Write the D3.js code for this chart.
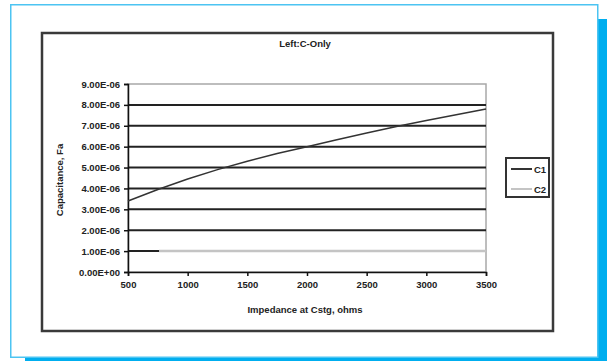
<!DOCTYPE html>
<html>
<head>
<meta charset="utf-8">
<script src="https://cdn.jsdelivr.net/npm/d3@7"></script>
<style>
	body { margin: 0; background: #fff; }
	text { font-family: "Liberation Sans", Arial, sans-serif; fill: #222; font-weight: bold; }
</style>
</head>
<body>
<div id="chart"></div>
<script>
// Data
const c1Impedance = [500, 750, 1000, 1250, 1500, 1750, 2000, 2250, 2500, 2750, 3000, 3250, 3500]
const c1Capacitance = [3.4e-6, 3.95e-6, 4.45e-6, 4.9e-6, 5.3e-6, 5.67e-6, 6.0e-6, 6.33e-6, 6.65e-6, 6.97e-6, 7.25e-6, 7.53e-6, 7.8e-6]
const c2Impedance = [760, 3500]
const c2Capacitance = [1e-6, 1e-6]
const xTicks = [500, 1000, 1500, 2000, 2500, 3000, 3500]
const yTicks = [0, 1e-6, 2e-6, 3e-6, 4e-6, 5e-6, 6e-6, 7e-6, 8e-6, 9e-6]
const seriesNames = ['C1', 'C2']

function draw() {
	// Dimensions
	let dimensions = {
		width: 607,
		height: 361,
		margin: { top: 84, bottom: 89, left: 128, right: 121 }
	}
	dimensions.ctrWidth = dimensions.width - dimensions.margin.left - dimensions.margin.right
	dimensions.ctrHeight = dimensions.height - dimensions.margin.top - dimensions.margin.bottom

	const svg = d3.select('#chart')
		.append('svg')
		.attr('width', dimensions.width)
		.attr('height', dimensions.height)

	// page frame and cyan shadow
	svg.append('rect').attr('x', 598).attr('y', 19).attr('width', 9).attr('height', 342).attr('fill', '#00aeef')
	svg.append('rect').attr('x', 25).attr('y', 358).attr('width', 582).attr('height', 3).attr('fill', '#00aeef')
	svg.append('rect')
		.attr('x', 10.75).attr('y', 4.75).attr('width', 587).attr('height', 352.5)
		.attr('fill', '#fff').attr('stroke', '#4cc4f2').attr('stroke-width', 1.5)

	// chart box
	svg.append('rect')
		.attr('x', 42).attr('y', 33).attr('width', 511).attr('height', 298)
		.attr('fill', 'none').attr('stroke', '#3a3a3a').attr('stroke-width', 2.5)

	svg.append('text')
		.attr('x', 305).attr('y', 47)
		.attr('text-anchor', 'middle')
		.style('font-size', '9.5px')
		.text('Left:C-Only')

	const ctr = svg.append('g')
		.attr('transform', `translate(${dimensions.margin.left}, ${dimensions.margin.top})`)

	// Scales
	const xScale = d3.scaleLinear()
		.domain([500, 3500])
		.range([0, dimensions.ctrWidth])

	const yScale = d3.scaleLinear()
		.domain([0, 9e-6])
		.range([dimensions.ctrHeight, 0])

	// plot border (gray)
	ctr.append('rect')
		.attr('width', dimensions.ctrWidth)
		.attr('height', dimensions.ctrHeight)
		.attr('fill', 'none')
		.attr('stroke', '#a8a8a8')
		.attr('stroke-width', 1.5)

	// gridlines
	ctr.selectAll('.grid')
		.data(yTicks.filter(d => d > 0 && d < 9e-6))
		.join('line')
		.attr('class', 'grid')
		.attr('x1', 0)
		.attr('x2', dimensions.ctrWidth)
		.attr('y1', d => yScale(d))
		.attr('y2', d => yScale(d))
		.attr('stroke', '#222')
		.attr('stroke-width', 2)

	// axes
	const xAxis = d3.axisBottom(xScale).tickValues(xTicks).tickSize(4).tickPadding(5).tickFormat(d3.format('d'))
	const yAxis = d3.axisLeft(yScale).tickValues(yTicks).tickSize(4).tickPadding(4)
		.tickFormat(d => d === 0 ? '0.00E+00' : d3.format('.2e')(d).replace('e-', 'E-0'))

	const xG = ctr.append('g')
		.attr('transform', `translate(0, ${dimensions.ctrHeight})`)
		.call(xAxis)
	const yG = ctr.append('g').call(yAxis)

	;[xG, yG].forEach(g => {
		g.select('.domain').attr('stroke', '#111').attr('stroke-width', 1.5)
		g.selectAll('.tick line').attr('stroke', '#111').attr('stroke-width', 1.5)
		g.selectAll('.tick text')
			.style('font-family', '"Liberation Sans", Arial, sans-serif')
			.style('font-size', '9.5px')
			.style('font-weight', 'bold')
			.attr('fill', '#222')
	})

	// lines
	const line = d3.line()
		.x(d => xScale(d[0]))
		.y(d => yScale(d[1]))

	ctr.append('path')
		.datum(c2Impedance.map((d, i) => [d, c2Capacitance[i]]))
		.attr('d', line)
		.attr('fill', 'none')
		.attr('stroke', '#c4c4c4')
		.attr('stroke-width', 2.5)

	ctr.append('path')
		.datum(c1Impedance.map((d, i) => [d, c1Capacitance[i]]))
		.attr('d', line)
		.attr('fill', 'none')
		.attr('stroke', '#333')
		.attr('stroke-width', 1.5)

	// axis titles
	svg.append('text')
		.attr('x', 305).attr('y', 313)
		.attr('text-anchor', 'middle')
		.style('font-size', '9.5px')
		.text('Impedance at Cstg, ohms')

	svg.append('text')
		.attr('transform', 'translate(63, 180) rotate(-90)')
		.attr('text-anchor', 'middle')
		.style('font-size', '9.5px')
		.text('Capacitance, Fa')

	// legend
	const legend = svg.append('g')
	legend.append('rect')
		.attr('x', 506).attr('y', 158).attr('width', 43).attr('height', 39)
		.attr('fill', '#fff').attr('stroke', '#333').attr('stroke-width', 2)

	const legendColors = ['#333', '#c4c4c4']
	legend.selectAll('.item')
		.data(seriesNames)
		.join('g')
		.attr('class', 'item')
		.attr('transform', (d, i) => `translate(510, ${169 + i * 20})`)
		.each(function (d, i) {
			const g = d3.select(this)
			g.append('line')
				.attr('x1', 1).attr('x2', 22)
				.attr('stroke', legendColors[i])
				.attr('stroke-width', 2)
			g.append('text')
				.attr('x', 24).attr('y', 3.5)
				.style('font-size', '9.5px')
				.text(d)
		})
}

draw()
</script>
</body>
</html>
